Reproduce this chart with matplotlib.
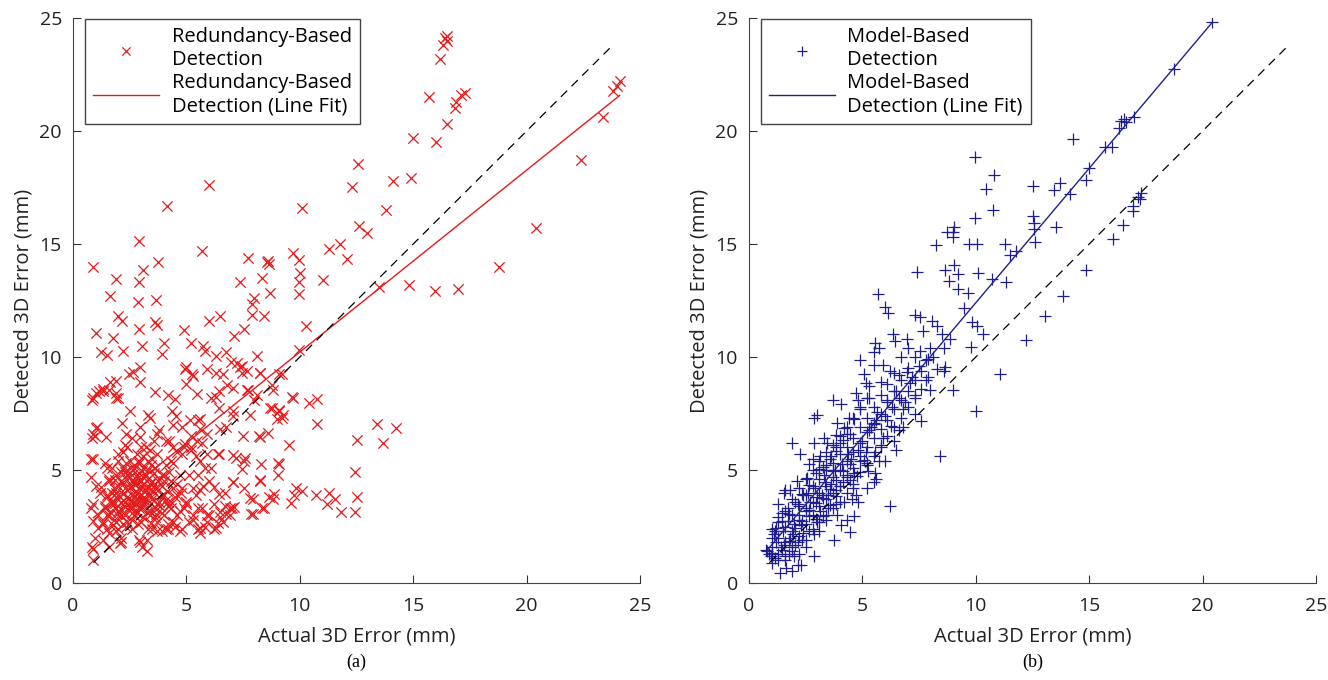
import numpy as np
import matplotlib
matplotlib.use("Agg")
import matplotlib.pyplot as plt

# ---- panel (a): redundancy-based detection, (actual, detected) in mm ----
red_outliers = [
    (16.4, 24.1), (16.5, 24.0), (16.3, 23.8), (16.5, 24.2), (16.2, 23.2),
    (17.3, 21.7), (17.1, 21.6), (16.9, 21.3), (16.85, 21.0), (15.7, 21.5),
    (16.5, 20.3), (16.0, 19.5), (15.0, 19.7), (24.1, 22.2), (24.0, 22.0),
    (23.8, 21.75), (23.35, 20.6), (22.4, 18.7), (20.4, 15.7), (18.8, 14.0),
    (16.95, 13.0), (15.95, 12.9), (14.8, 13.2), (13.5, 13.1), (14.9, 17.9),
    (14.1, 17.8), (13.8, 16.5), (12.55, 18.55), (12.3, 17.5), (12.6, 15.8),
    (12.95, 15.5), (12.1, 14.35), (11.75, 15.0), (11.3, 14.8), (11.0, 13.4),
    (10.1, 16.6), (9.7, 14.6), (9.95, 14.3), (10.0, 13.7), (9.95, 13.3),
    (9.95, 12.8), (10.25, 11.35), (9.95, 10.3), (8.6, 14.25), (8.65, 14.1),
    (8.55, 14.2), (7.7, 14.4), (8.35, 13.5), (8.7, 12.85), (8.0, 12.6),
    (7.9, 12.35), (8.4, 11.8), (7.9, 11.85), (7.35, 13.3), (7.55, 11.25),
    (7.1, 10.95), (5.7, 14.7), (6.0, 11.6), (6.5, 11.8), (4.15, 16.7),
    (6.0, 17.6), (2.9, 15.15), (3.75, 14.2), (3.1, 13.85), (0.9, 14.0),
    (1.9, 13.45), (2.9, 13.3), (1.65, 12.7), (2.85, 12.45), (3.65, 12.5),
    (2.0, 11.8), (2.15, 11.6), (3.6, 11.55), (3.7, 11.4), (1.0, 11.05),
    (1.75, 10.85), (2.9, 11.25), (4.9, 11.2), (4.0, 10.6), (3.05, 10.5),
]
red_mid = [
    (1.25, 10.2), (1.5, 10.1), (2.2, 10.25), (3.9, 10.15), (5.2, 10.6),
    (5.75, 10.5), (5.8, 10.25), (6.3, 10.05), (6.75, 10.2), (8.1, 10.05),
    (6.95, 9.8), (7.45, 9.6), (7.25, 9.75), (7.65, 9.4), (8.25, 9.3),
    (8.75, 8.75), (9.2, 9.25), (2.45, 9.25), (2.65, 9.35), (2.95, 8.9),
    (5.0, 9.55), (5.25, 9.25), (5.9, 9.45), (6.6, 9.25), (6.8, 8.75),
    (6.3, 8.25), (7.05, 7.4), (7.65, 8.55), (8.0, 8.1), (9.65, 8.25),
    (10.4, 7.95), (10.75, 8.15), (10.75, 7.05), (8.75, 7.75), (9.1, 7.65),
    (9.25, 7.45), (9.0, 7.25), (8.6, 6.65), (8.2, 6.5), (9.5, 6.1),
    (6.5, 6.8), (12.5, 6.35), (13.4, 7.05), (14.25, 6.85), (13.65, 6.2),
    (12.45, 4.9), (12.5, 3.8), (12.45, 3.15), (11.8, 3.15), (11.55, 3.7),
    (11.3, 4.0), (11.2, 3.5), (10.7, 3.9), (10.1, 4.05), (9.85, 4.2),
    (9.75, 3.9), (9.6, 3.55), (9.05, 5.3), (9.05, 4.8), (8.85, 3.95),
    (8.3, 5.25), (8.25, 4.55), (8.65, 3.8), (7.95, 3.7), (7.85, 3.05),
    (8.35, 3.3), (7.5, 6.5), (7.6, 5.55), (7.45, 5.05), (7.05, 5.65),
    (7.05, 4.45), (7.55, 4.2), (7.8, 3.75), (7.0, 3.3), (6.7, 3.4),
    (6.4, 5.7), (6.5, 3.15), (6.4, 2.65), (0.9, 1.0), (0.85, 1.6),
    (0.95, 2.0), (0.8, 3.3), (0.8, 5.5), (0.85, 6.4), (1.0, 6.85),
    (0.9, 6.6), (0.85, 8.1), (1.0, 8.4), (1.15, 8.5), (1.65, 8.9),
    (1.3, 8.6), (1.9, 8.4), (1.9, 8.2), (2.95, 1.8), (3.25, 1.4),
    (3.25, 1.9), (2.1, 1.8), (1.6, 1.6), (2.05, 1.75), (2.9, 1.9),
    (3.05, 1.6), (1.3, 1.9), (0.9, 1.5), (0.9, 2.75), (1.1, 2.45),
    (1.25, 4.25), (0.9, 3.5), (0.8, 4.7), (0.9, 5.5),
]
red_cluster = [
    (2.95, 9.55), (4.95, 9.45), (5.0, 8.8), (5.3, 9.15), (6.3, 9.3),
    (7.35, 9.55), (7.45, 9.3), (8.25, 9.3), (9.1, 9.25), (1.9, 8.95),
    (0.9, 8.2), (1.3, 8.5), (1.6, 8.55), (2.0, 8.2), (3.6, 8.45),
    (4.2, 8.3), (4.5, 8.15), (5.45, 8.35), (6.1, 8.2), (6.45, 8.5),
    (7.05, 8.65), (7.7, 8.55), (8.1, 8.3), (8.8, 8.55), (9.7, 8.2),
    (2.5, 7.6), (3.3, 7.45), (3.4, 7.3), (4.35, 7.6), (4.55, 7.4),
    (5.15, 7.2), (5.6, 7.25), (6.45, 7.75), (7.05, 7.6), (7.8, 7.45),
    (8.7, 7.75), (9.1, 7.6), (9.2, 7.3), (2.15, 7.1), (2.95, 6.9),
    (3.8, 6.75), (5.6, 6.8), (5.9, 6.6), (6.75, 6.9), (8.25, 6.45),
    (1.05, 6.9), (0.95, 6.5), (1.45, 6.45), (2.35, 6.6), (2.95, 6.45),
    (3.55, 6.3), (4.25, 6.3), (4.95, 6.15), (5.45, 6.3), (6.45, 5.7),
    (7.2, 5.55), (7.55, 5.4), (9.1, 5.25), (8.25, 4.5), (7.05, 4.45),
    (6.2, 4.25), (5.75, 4.3), (6.45, 3.95), (5.6, 2.2), (5.6, 2.45),
    (6.3, 2.45), (4.7, 2.3), (4.2, 2.4), (3.7, 2.3), (7.1, 3.35),
    (6.9, 3.3), (6.75, 3.05), (7.95, 3.05), (8.4, 3.3), (8.8, 3.7),
    (1.5, 3.0), (1.7, 3.5), (1.8, 2.8), (1.9, 4.0), (2.0, 3.2),
    (2.1, 3.6), (2.2, 2.6), (2.2, 4.4), (2.3, 3.0), (2.4, 3.8),
    (2.4, 5.0), (2.5, 3.4), (2.5, 4.2), (2.6, 2.8), (2.6, 4.8),
    (2.7, 3.6), (2.7, 4.5), (2.8, 3.1), (2.8, 4.0), (2.9, 3.8),
    (2.9, 5.3), (3.0, 3.3), (3.0, 4.3), (3.1, 2.9), (3.1, 4.7),
    (3.2, 3.6), (3.2, 4.1), (3.3, 3.9), (3.3, 5.0), (3.4, 3.2),
    (3.4, 4.4), (3.5, 3.7), (3.5, 5.5), (3.6, 2.9), (3.6, 4.2),
    (3.7, 3.5), (3.8, 4.6), (3.9, 3.1), (4.0, 3.9), (4.1, 5.2),
    (4.2, 3.4), (4.3, 4.5), (4.4, 2.7), (4.5, 3.8), (4.6, 5.8),
    (4.7, 3.2), (4.8, 4.2), (4.9, 6.0), (5.0, 3.5), (5.1, 4.8),
    (5.3, 2.8), (5.4, 5.6), (5.5, 3.3), (5.6, 4.1), (5.7, 6.2),
    (5.8, 2.5), (1.2, 4.0), (1.3, 2.6), (1.4, 3.4), (1.6, 4.6),
    (1.1, 3.0), (1.0, 4.3), (1.9, 2.3), (2.0, 5.4), (2.3, 6.1),
    (2.6, 6.4), (3.0, 6.0), (3.4, 5.9), (3.7, 6.6), (4.1, 6.3),
    (4.4, 7.0), (4.8, 6.9), (5.2, 6.5), (5.5, 7.2), (6.0, 4.5),
    (6.2, 3.5), (6.5, 2.9), (6.7, 4.0), (5.9, 3.0), (4.5, 2.5),
    (4.2, 2.6), (3.9, 2.3), (3.5, 2.4), (1.6, 2.2), (2.1, 2.0),
    (1.8, 3.9), (2.3, 4.9), (2.7, 5.2), (3.1, 5.6), (1.7, 5.1),
    (1.4, 5.3), (2.2, 5.8), (3.6, 5.1), (4.0, 4.8), (4.4, 5.3),
    (5.2, 5.9), (4.6, 4.4), (5.4, 3.9), (1.5, 3.8), (2.6, 3.1),
]
red_core = [
    (1.5, 2.4), (2.0, 2.4), (2.6, 2.4), (3.3, 2.4), (4.1, 2.4), (4.8, 2.4), (5.5, 2.4), (6.2, 2.4),
    (1.3, 2.7), (1.9, 2.7), (2.4, 2.7), (3.0, 2.7), (3.7, 2.7), (4.4, 2.7), (5.1, 2.7), (5.9, 2.7),
    (6.6, 2.7), (1.6, 3.0), (2.1, 3.0), (2.7, 3.0), (3.4, 3.0), (4.0, 3.0), (4.6, 3.0), (5.3, 3.0),
    (6.0, 3.0), (6.9, 3.0), (1.4, 3.3), (1.9, 3.3), (2.5, 3.3), (2.9, 3.3), (3.6, 3.3), (4.3, 3.3),
    (4.9, 3.3), (5.7, 3.3), (1.7, 3.6), (2.3, 3.6), (2.8, 3.6), (3.1, 3.6), (3.8, 3.6), (4.2, 3.6),
    (5.0, 3.6), (1.5, 3.9), (2.0, 3.9), (2.6, 3.9), (3.0, 3.9), (3.4, 3.9), (3.9, 3.9), (4.6, 3.9),
    (1.8, 4.2), (2.3, 4.2), (2.9, 4.2), (3.3, 4.2), (3.7, 4.2), (4.4, 4.2), (5.3, 4.2), (1.6, 4.5),
    (2.1, 4.5), (2.6, 4.5), (3.0, 4.5), (3.5, 4.5), (4.0, 4.5), (1.9, 4.8), (2.4, 4.8), (2.8, 4.8),
    (3.2, 4.8), (3.9, 4.8), (4.7, 4.8), (5.5, 4.8), (1.5, 5.1), (2.2, 5.1), (2.7, 5.1), (3.1, 5.1),
    (3.6, 5.1), (5.8, 5.1), (6.1, 5.1), (2.5, 5.4), (2.9, 5.4), (3.3, 5.4), (4.3, 5.4), (5.6, 5.4),
    (2.0, 5.7), (2.8, 5.7), (3.7, 5.7), (4.8, 5.7), (5.9, 5.7), (2.4, 6.0), (3.2, 6.0), (4.4, 6.0),
    (5.2, 6.0), (2.75, 4.35), (3.15, 4.05), (2.45, 3.75), (3.55, 4.85), (2.15, 3.25), (3.05, 3.45),
]
red_core2 = [
    (1.75, 2.55), (2.35, 2.5), (2.85, 2.6), (3.45, 2.65), (1.65, 3.15), (2.25, 3.4), (2.65, 3.35),
    (3.25, 3.15), (3.85, 3.4), (1.85, 3.55), (2.55, 3.6), (2.95, 3.65), (3.45, 3.55), (4.05, 3.65),
    (1.7, 4.0), (2.2, 3.95), (2.75, 3.85), (3.15, 3.8), (3.6, 4.0), (4.15, 4.05), (2.0, 4.3),
    (2.55, 4.3), (3.1, 4.35), (3.45, 4.15), (3.9, 4.3), (1.85, 4.55), (2.35, 4.6), (2.85, 4.65),
    (3.3, 4.6), (3.75, 4.5), (2.1, 4.9), (2.65, 5.0), (3.05, 4.95), (3.45, 5.2), (2.35, 5.3),
    (1.95, 3.05), (3.65, 3.05), (4.35, 3.55), (4.75, 4.0), (4.25, 4.9),
]

# ---- panel (b): model-based detection ----
blue_outliers = [
    (20.43, 24.8), (18.75, 22.75), (16.98, 20.6), (16.38, 20.45), (16.55, 20.55),
    (16.3, 20.15), (16.6, 20.4), (16.0, 19.3), (15.7, 19.3), (14.3, 19.65),
    (15.0, 18.35), (14.85, 17.85), (14.15, 17.2), (13.7, 17.7), (13.45, 17.4),
    (13.55, 15.75), (12.5, 17.55), (12.5, 16.25), (12.55, 15.95), (12.55, 15.65),
    (12.6, 15.1), (11.3, 15.0), (11.5, 14.5), (11.75, 14.7), (11.35, 13.3),
    (10.7, 13.45), (10.75, 16.5), (10.8, 18.05), (10.45, 17.45), (9.95, 18.85),
    (9.95, 16.15), (10.05, 15.0), (9.7, 15.0), (10.1, 13.7), (9.2, 13.65),
    (9.05, 14.05), (9.0, 15.3), (8.75, 15.55), (9.05, 15.75), (9.0, 15.55),
    (8.25, 14.95), (8.65, 13.85), (8.8, 13.35), (9.2, 13.0), (9.65, 12.85),
    (9.5, 12.15), (9.85, 11.55), (10.05, 11.35), (10.3, 11.0), (9.8, 10.45),
    (11.05, 9.25), (10.0, 7.6), (12.2, 10.75), (13.05, 11.8), (13.85, 12.7),
    (14.85, 13.85), (16.05, 15.2), (16.5, 15.85), (16.95, 16.45), (16.95, 16.7),
    (17.15, 17.1), (17.3, 17.25), (17.25, 17.0),
]
blue_mid = [
    (7.4, 13.75), (6.15, 11.95), (6.0, 12.2), (5.7, 12.8), (6.35, 11.0),
    (6.45, 10.7), (6.95, 10.8), (7.3, 11.85), (7.55, 11.75), (7.65, 11.15),
    (8.05, 11.6), (8.3, 11.35), (8.5, 11.0), (8.85, 10.8), (8.0, 10.4),
    (7.55, 10.25), (7.8, 9.85), (8.3, 9.45), (8.65, 9.55), (8.6, 9.4),
    (9.0, 8.55), (8.0, 8.55), (7.6, 7.15), (8.4, 5.6), (6.2, 3.4),
    (6.5, 5.9), (5.55, 10.6), (5.75, 10.4), (5.5, 10.2), (4.9, 9.85),
    (5.5, 9.65), (5.05, 9.25), (5.15, 8.85), (5.9, 9.65), (6.6, 9.2),
    (6.95, 9.35), (6.5, 8.5), (7.1, 8.85), (7.3, 8.3), (6.8, 7.7),
    (6.1, 8.1), (3.7, 8.1), (4.05, 7.9), (4.7, 8.4), (4.8, 8.1),
    (5.3, 8.7), (2.85, 7.3), (3.0, 7.45), (4.2, 6.85), (3.85, 6.55),
    (4.65, 7.25), (5.65, 7.55), (5.5, 7.05), (5.3, 6.75), (5.9, 6.4),
    (6.25, 6.95), (6.6, 6.75), (1.9, 6.2), (2.25, 5.7), (2.85, 6.2),
    (3.45, 6.2), (3.15, 5.6), (3.85, 6.0), (4.35, 5.7), (4.9, 5.4),
    (5.15, 5.8), (5.55, 5.8), (5.75, 5.4), (4.65, 4.85), (5.25, 4.95),
    (5.5, 4.45), (5.55, 4.85), (4.1, 5.25), (3.7, 4.95), (4.7, 3.9),
    (4.55, 3.7), (4.65, 2.95), (4.45, 2.25), (4.05, 2.55), (3.75, 1.9),
]
blue_cluster = [
    (2.85, 2.15), (2.85, 1.2), (2.15, 0.8), (2.3, 0.8), (1.9, 0.55),
    (1.65, 0.65), (1.35, 0.45), (0.8, 1.4), (0.9, 1.3), (0.75, 1.45),
    (0.95, 1.2), (1.0, 1.35), (1.1, 2.15), (1.2, 2.45), (1.45, 3.1),
    (1.55, 4.0), (1.8, 4.1), (2.15, 3.5), (2.4, 3.9), (2.55, 4.65),
    (2.65, 5.25), (3.1, 5.05), (3.35, 4.45), (3.5, 3.9), (3.85, 3.5),
    (3.85, 4.1), (3.0, 3.8), (3.15, 3.2), (2.65, 2.95), (2.3, 2.55),
    (1.95, 2.15), (1.7, 2.75), (1.55, 1.7), (2.15, 1.8), (1.9, 1.4),
    (1.3, 1.0), (1.6, 1.2), (1.2, 1.8), (1.5, 2.3), (1.8, 2.0),
    (2.0, 2.6), (2.2, 3.0), (2.4, 2.2), (2.5, 3.3), (2.7, 3.6),
    (2.9, 4.2), (3.0, 2.7), (3.2, 3.9), (3.3, 4.8), (3.5, 3.3),
    (3.6, 4.4), (3.8, 5.0), (4.0, 4.3), (4.2, 3.6), (4.3, 4.8),
    (4.5, 5.5), (4.6, 4.2), (4.8, 5.9), (5.0, 6.3), (5.2, 5.2),
    (5.4, 6.9), (5.6, 7.2), (5.8, 6.1), (6.0, 7.4), (6.3, 7.8),
    (6.6, 8.2), (6.9, 8.0), (7.2, 9.1), (7.5, 9.6), (7.8, 9.0),
    (8.1, 10.0), (8.6, 10.4), (4.0, 6.2), (3.6, 5.6), (3.3, 6.4),
    (4.4, 7.3), (4.9, 7.8), (5.3, 8.2), (5.8, 8.9), (6.2, 9.4),
    (6.7, 10.0), (7.0, 10.4), (4.3, 6.6), (3.9, 7.1), (2.6, 4.0),
    (1.7, 3.3), (2.1, 4.5), (2.8, 5.5), (3.4, 5.2), (1.3, 2.9),
    (1.0, 2.0), (1.4, 1.6), (2.0, 1.2), (2.5, 1.6), (3.1, 2.3),
    (3.4, 2.8), (3.9, 3.0), (4.3, 2.8), (4.8, 3.6), (5.2, 4.2),
    (5.6, 4.6), (6.0, 5.4), (6.4, 6.3), (6.8, 6.9), (7.3, 7.5),
]
blue_core = [
    (1.0, 0.9), (1.0, 1.6), (1.0, 2.4), (1.3, 1.3), (1.3, 2.0), (1.3, 2.7), (1.3, 3.5),
    (1.6, 1.0), (1.6, 1.8), (1.6, 2.5), (1.6, 3.2), (1.6, 4.1), (1.9, 1.6), (1.9, 2.3),
    (1.9, 3.0), (1.9, 3.7), (2.2, 1.3), (2.2, 2.1), (2.2, 2.8), (2.2, 3.4), (2.2, 4.2),
    (2.5, 1.9), (2.5, 2.6), (2.5, 3.2), (2.5, 3.9), (2.5, 4.6), (2.8, 2.4), (2.8, 3.0),
    (2.8, 3.6), (2.8, 4.3), (2.8, 5.0), (3.1, 2.7), (3.1, 3.4), (3.1, 4.0), (3.1, 4.6),
    (3.1, 5.4), (3.4, 3.0), (3.4, 3.7), (3.4, 4.3), (3.4, 5.0), (3.4, 5.8), (3.7, 3.3),
    (3.7, 4.0), (3.7, 4.7), (3.7, 5.3), (3.7, 6.1), (4.0, 3.6), (4.0, 4.3), (4.0, 5.0),
    (4.0, 5.7), (4.0, 6.5), (4.3, 4.0), (4.3, 4.7), (4.3, 5.4), (4.3, 6.0), (4.3, 6.9),
    (4.6, 4.4), (4.6, 5.1), (4.6, 5.8), (4.6, 6.4), (4.6, 7.3), (4.9, 4.9), (4.9, 5.6),
    (4.9, 6.2), (4.9, 6.9), (4.9, 7.7), (5.2, 5.3), (5.2, 6.0), (5.2, 6.7), (5.2, 7.3),
    (5.2, 8.2), (5.5, 5.6), (5.5, 6.4), (5.5, 7.1), (5.5, 7.8), (5.8, 6.0), (5.8, 6.8),
    (5.8, 7.5), (5.8, 8.3), (6.1, 6.5), (6.1, 7.2), (6.1, 8.0), (6.1, 8.8), (6.4, 6.9),
    (6.4, 7.7), (6.4, 8.5), (6.4, 9.3), (6.7, 7.3), (6.7, 8.1), (6.7, 9.0), (7.0, 7.8),
    (7.0, 8.5), (7.0, 9.5), (7.3, 8.2), (7.3, 9.0), (7.3, 10.0), (7.6, 8.6), (7.6, 9.4),
    (7.9, 9.1), (7.9, 9.9),
]
blue_core2 = [
    (1.15, 1.1), (1.45, 1.45), (1.75, 1.85), (2.05, 2.45), (2.35, 2.75), (2.65, 3.25),
    (2.95, 3.55), (3.25, 3.75), (3.55, 4.15), (3.85, 4.55), (4.15, 4.95), (4.45, 5.25),
    (1.15, 2.3), (1.45, 2.75), (1.75, 3.05), (2.05, 3.6), (2.35, 3.95), (2.65, 4.35),
    (2.95, 4.85), (3.25, 5.15), (3.55, 5.5), (3.85, 5.85), (4.15, 6.35), (4.45, 6.6),
    (1.75, 1.3), (2.05, 1.7), (2.35, 1.9), (2.65, 2.3), (2.95, 2.85), (3.25, 2.95),
    (3.55, 3.45), (3.85, 3.85), (4.15, 4.45), (4.45, 4.55), (4.75, 4.75), (5.05, 5.45),
]

# least-squares fits: (slope, intercept, x range)
red_fit = (0.805, 2.17, 0.9, 24.1)
blue_fit = (1.19, 0.5, 0.8, 20.43)
diag_range = (0.9, 23.8)

ticks = [0, 5, 10, 15, 20, 25]

red = "#e41a1c"
blue = "#1f1f8f"

plt.rcParams["font.family"] = ["Open Sans", "DejaVu Sans"]
plt.rcParams["font.size"] = 14

fig = plt.figure(figsize=(13.28, 6.8), dpi=100)
ax_a = fig.add_axes([0.055, 0.1426, 0.427, 0.831])
ax_b = fig.add_axes([0.564, 0.1426, 0.427, 0.831])


def draw_panel(ax, pts_groups, marker, color, fit, name, size, tag):
    pts = np.array([p for g in pts_groups for p in g])
    ax.scatter(pts[:, 0], pts[:, 1], marker=marker, s=size, c=color,
               linewidths=0.9, label=name + "\nDetection", zorder=2)
    slope, icpt, x0, x1 = fit
    xs = np.array([x0, x1])
    ax.plot(xs, slope * xs + icpt, color=color, lw=1.0,
            label=name + "\nDetection (Line Fit)", zorder=3)
    d = np.array(diag_range)
    ax.plot(d, d, color="black", lw=0.9, dashes=(7, 5), zorder=4)

    ax.set_xlim(0, 25)
    ax.set_ylim(0, 25)
    ax.set_xticks(ticks)
    ax.set_yticks(ticks)
    ax.tick_params(direction="in", length=6, colors="#333333",
                   labelcolor="#222222", labelsize=14)
    ax.tick_params(axis="x", pad=10)
    ax.tick_params(axis="y", pad=8)
    for s in ("top", "right"):
        ax.spines[s].set_visible(False)
    for s in ("left", "bottom"):
        ax.spines[s].set_color("#444444")
    ax.set_xlabel("Actual 3D Error (mm)", color="#222222", labelpad=8, fontsize=14.5)
    ax.set_ylabel("Detected 3D Error (mm)", color="#222222", labelpad=4, fontsize=14.5)

    leg = ax.legend(loc="upper left", bbox_to_anchor=(0.021, 0.998),
                    borderaxespad=0, fancybox=False, framealpha=1,
                    edgecolor="#444444", handlelength=3.3, handletextpad=0.6,
                    labelspacing=0.15, markerscale=0.8, fontsize=14.5,
                    borderpad=0.4)
    leg.get_frame().set_linewidth(1.0)

    ax.text(0.5, -0.125, tag, transform=ax.transAxes, ha="center", va="top",
            fontsize=13, family=["Liberation Serif", "DejaVu Serif"])


draw_panel(ax_a, [red_outliers, red_mid, red_cluster, red_core, red_core2], "x",
           red, red_fit, "Redundancy-Based", 55, "(a)")
draw_panel(ax_b, [blue_outliers, blue_mid, blue_cluster, blue_core, blue_core2], "+",
           blue, blue_fit, "Model-Based", 85, "(b)")

fig.savefig("out.png", dpi=100)
